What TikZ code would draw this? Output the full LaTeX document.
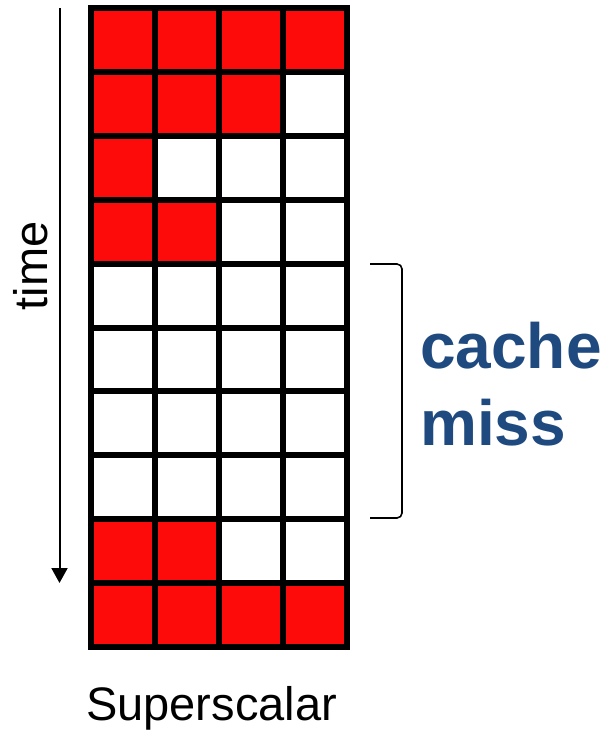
\documentclass[tikz,border=0pt]{standalone}
\usepackage{fontspec}
\setmainfont{Liberation Sans}
\usetikzlibrary{arrows.meta}
\definecolor{cellred}{RGB}{253,11,11}
\definecolor{missblue}{RGB}{31,74,127}
\begin{document}
\begin{tikzpicture}[x={(1pt,0)},y={(0,-1pt)},
  cell/.style={draw=black,line width=6pt,minimum width=64pt,minimum height=63.9pt,
    inner sep=0pt,outer sep=0pt,fill=white},
  busy/.style={cell,fill=cellred},
  label/.style={inner sep=0pt,font=\fontsize{47}{56}\selectfont},
  note/.style={inner sep=0pt,text=missblue,font=\fontsize{64}{77}\selectfont\bfseries}]
\useasboundingbox (0,0) rectangle (607,730);
% issue slots per cycle: number of busy slots in each row, top to bottom
\foreach \used [count=\r from 0] in {4,3,1,2,0,0,0,0,2,4}{
  \foreach \c in {0,...,3}{
    \pgfmathtruncatemacro{\isbusy}{\c<\used ? 1 : 0}
    \ifnum\isbusy=1
      \node[busy] (cell-\r-\c) at ({123+64*\c},{39.95+63.9*\r}) {};
    \else
      \node[cell] (cell-\r-\c) at ({123+64*\c},{39.95+63.9*\r}) {};
    \fi
  }
}
% time axis
\coordinate (tstart) at (59.5,8);
\coordinate (tend) at (59.5,583);
\draw[line width=2pt,-{Triangle[length=15pt,width=16pt]}] (tstart) -- (tend);
\node[label,rotate=90,anchor=base] (time) at (47,266) {time};
% bracket over the stalled cycles
\coordinate (br0) at (370,264);
\coordinate (br1) at (402,264);
\coordinate (br2) at (402,518);
\coordinate (br3) at (370,518);
\draw[line width=1.6pt,rounded corners=5pt] (br0) -- (br1) -- (br2) -- (br3);
\node[note,anchor=base west] (cache) at (420,368) {cache};
\node[note,anchor=base west] (miss) at (420,445) {miss};
\node[label,anchor=base west] (title) at (86,720) {Superscalar};
\end{tikzpicture}
\end{document}
